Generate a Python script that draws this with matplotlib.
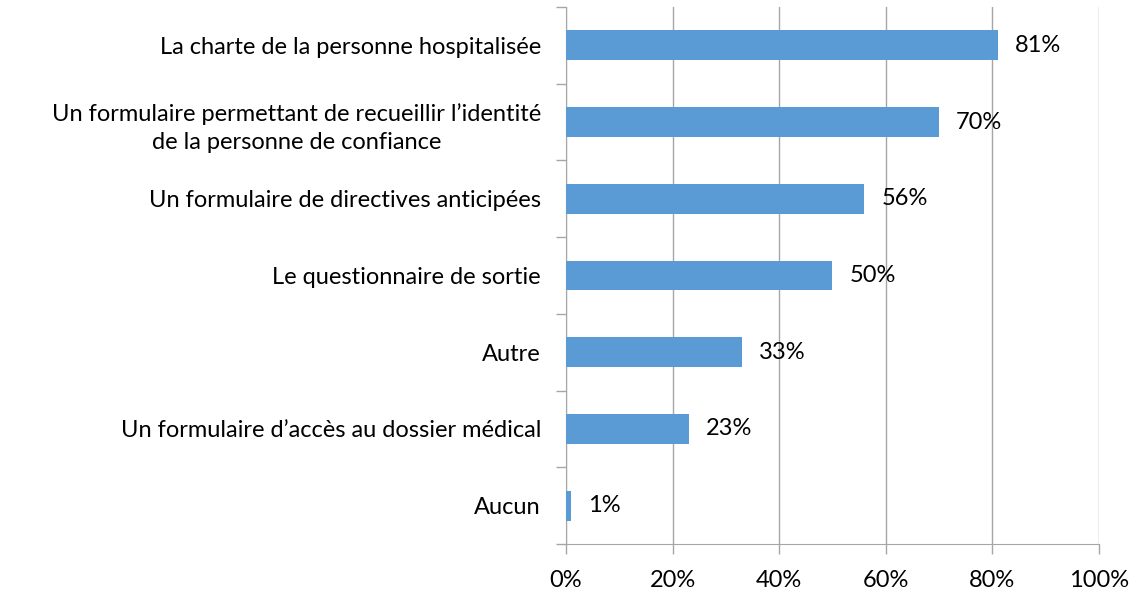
import matplotlib
matplotlib.use("Agg")
import matplotlib.pyplot as plt
import numpy as np

categories = [
    "La charte de la personne hospitalisée",
    "Un formulaire permettant de recueillir l\u2019identité\nde la personne de confiance",
    "Un formulaire de directives anticipées",
    "Le questionnaire de sortie",
    "Autre",
    "Un formulaire d\u2019accès au dossier médical",
    "Aucun",
]
values = [81, 70, 56, 50, 33, 23, 1]
xticks = [0, 20, 40, 60, 80, 100]

plt.rcParams['font.family'] = ['Lato', 'DejaVu Sans']
grey = '#A6A6A6'
fs = 17

fig = plt.figure(figsize=(11.47, 5.9), dpi=100)
ax = fig.add_axes([0.4935, 0.078, 0.4645, 0.910])

n = len(categories)
ypos = np.arange(n)[::-1]
ax.barh(ypos, values, height=0.39, color='#5B9BD5', zorder=3)
for y, v in zip(ypos, values):
    ax.text(v + 3.2, y, f"{v}%", va='center', ha='left', fontsize=fs, zorder=4)

ax.set_xlim(0, 100)
ax.set_ylim(-0.5, n - 0.5)
ax.set_xticks(xticks)
ax.set_xticklabels([f"{t}%" for t in xticks], fontsize=fs)
ax.xaxis.grid(True, color=grey, linewidth=1, zorder=0)

# category labels centred, ticks at boundaries
ax.set_yticks(np.arange(-0.5, n, 1))
ax.set_yticklabels([])
ax.set_yticks(ypos, minor=True)
ax.set_yticklabels(categories, minor=True, fontsize=fs, ha='right',
                   multialignment='center', linespacing=1.45)
ax.tick_params(axis='y', which='minor', length=0, pad=18)
ax.tick_params(axis='y', which='major', length=7, color=grey, width=1)
ax.tick_params(axis='x', length=7, color=grey, width=1, pad=12)

for s in ['top', 'right']:
    ax.spines[s].set_visible(False)
for s in ['left', 'bottom']:
    ax.spines[s].set_color(grey)

fig.savefig("out.png", dpi=100)
